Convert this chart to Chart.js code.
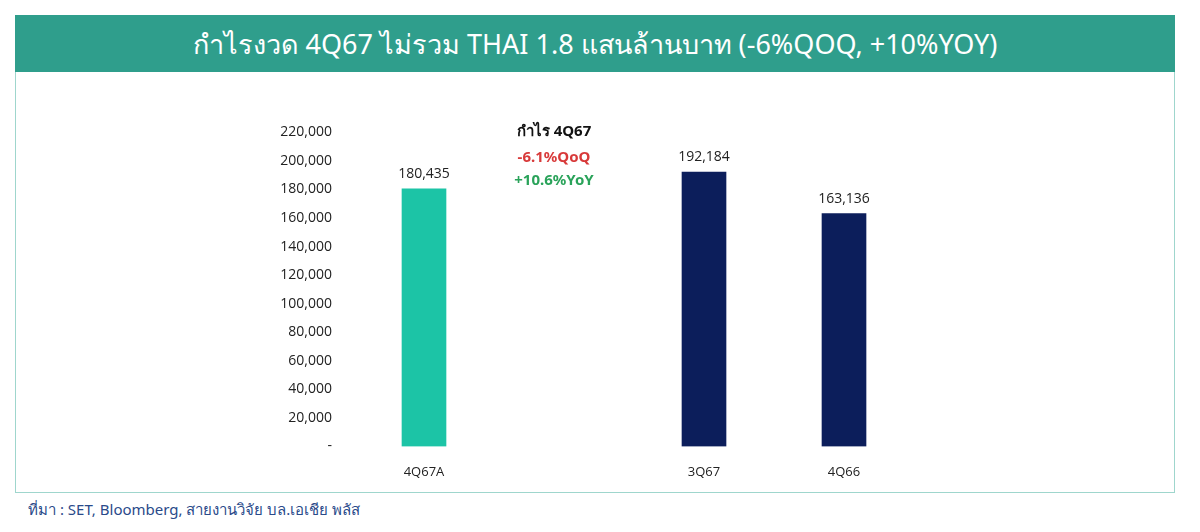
<!DOCTYPE html>
<html><head><meta charset="utf-8">
<script src="https://cdn.jsdelivr.net/npm/chart.js@4"></script>
<style>
body{margin:0;width:1200px;height:532px;background:#fff;font-family:"Noto Sans","Open Sans",sans-serif;position:relative;overflow:hidden}
#hdr{position:absolute;left:15px;top:15px;width:1160px;height:57px;background:#2f9e8c;color:#fff;font-size:27px;text-align:center;line-height:57px}
#panel{position:absolute;left:15px;top:72px;width:1158px;height:420px;border:1px solid #9fd6cd;border-top:none}
#src{position:absolute;left:28px;top:498px;font-size:15px;color:#2a4a8a}
#wrap{position:absolute;left:260px;top:110px;width:654px;height:380px}
</style></head><body>
<div id="hdr">กำไรงวด 4Q67 ไม่รวม THAI 1.8 แสนล้านบาท (-6%QOQ, +10%YOY)</div>
<div id="panel"></div>
<div id="src">ที่มา : SET, Bloomberg, สายงานวิจัย บล.เอเชีย พลัส</div>
<div id="wrap"><canvas id="c"></canvas></div>
<script>
const categories=["4Q67A","","3Q67","4Q66"];
const values=[180435,null,192184,163136];
const colors=["#1cc4a6","#ffffff","#0c1e5b","#0c1e5b"];
const labelsPlugin={id:"lbl",afterDatasetsDraw(ch){
  const ctx=ch.ctx,m=ch.getDatasetMeta(0);
  ctx.save();ctx.textAlign="center";ctx.textBaseline="bottom";ctx.fillStyle="#222";ctx.font="14px 'Open Sans'";
  values.forEach((v,i)=>{if(v==null)return;const b=m.data[i];ctx.fillText(v.toLocaleString("en-US"),b.x,b.y-8);});
  const x=ch.scales.x.getPixelForValue(1)-10;
  ctx.textBaseline="middle";
  ctx.font="bold 15px 'Noto Sans'";ctx.fillStyle="#111";ctx.fillText("กำไร 4Q67",x,22);
  ctx.fillStyle="#d83a3a";ctx.fillText("-6.1%QoQ",x,48);
  ctx.fillStyle="#2aa35a";ctx.fillText("+10.6%YoY",x,71);
  ctx.fillStyle="#222";ctx.font="bold 15px 'Noto Sans'";ctx.textAlign="left";ctx.fillText("ล้านบาท",8,-5);
  ctx.restore();}};
new Chart(document.getElementById("c"),{type:"bar",
 data:{labels:categories,datasets:[{data:values,backgroundColor:colors,barThickness:44}]},
 options:{responsive:true,maintainAspectRatio:false,animation:false,
  layout:{padding:{top:20,right:0}},
  plugins:{legend:{display:false},tooltip:{enabled:false}},
  scales:{
   x:{grid:{display:false},border:{display:false},ticks:{color:"#222",font:{size:13,family:"Open Sans"},padding:10}},
   y:{min:0,max:220000,afterFit(s){s.width=94;},grid:{display:false},border:{display:false},
      ticks:{stepSize:20000,color:"#222",font:{size:14,family:"Open Sans"},padding:14,
        callback:v=>v===0?"-":v.toLocaleString("en-US")}}}}
 ,plugins:[labelsPlugin]});
</script></body></html>
